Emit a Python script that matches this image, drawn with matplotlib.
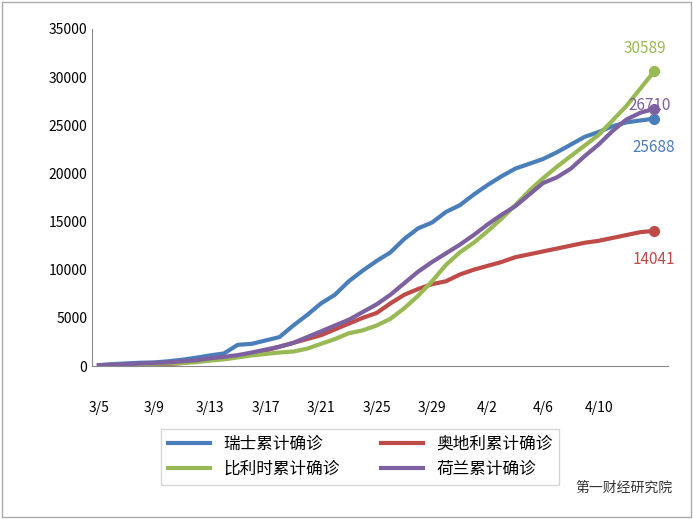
import matplotlib
matplotlib.use("Agg")
import matplotlib.pyplot as plt
import numpy as np
import datetime as dt

plt.rcParams['font.family'] = ['Noto Sans CJK SC', 'DejaVu Sans']

start = dt.date(2020, 3, 5)
dates = [start + dt.timedelta(days=i) for i in range(41)]
date_labels = [f"{d.month}/{d.day}" for d in dates]

swiss = [90,200,270,340,370,490,650,860,1100,1300,2200,2300,2650,3000,4200,5300,6500,7400,8800,9900,
         10900,11800,13200,14300,14900,16000,16700,17800,18800,19700,20500,21000,21500,22200,23000,23800,
         24300,24900,25300,25500,25688]
austria = [40,60,80,110,150,200,300,500,650,800,1000,1300,1600,2000,2400,2800,3200,3800,4400,5000,
           5500,6500,7400,8000,8500,8800,9500,10000,10400,10800,11300,11600,11900,12200,12500,12800,
           13000,13300,13600,13900,14041]
belgium = [50,110,170,200,240,270,320,400,560,690,890,1100,1250,1400,1500,1800,2300,2800,3400,3700,
           4200,4900,6000,7300,8800,10500,11800,12800,14000,15300,16700,18200,19500,20700,21800,22900,
           24000,25500,27000,28800,30589]
nether = [80,130,190,260,320,380,500,600,800,950,1130,1400,1700,2000,2400,3000,3600,4200,4800,5600,
          6400,7400,8600,9800,10800,11700,12600,13600,14700,15700,16600,17800,19000,19600,20500,21800,
          23000,24400,25600,26300,26710]

colors = {'swiss': '#4a7ebb', 'austria': '#be4b48', 'belgium': '#98b954', 'nether': '#7d60a0'}

fig = plt.figure(figsize=(6.93, 5.19), dpi=100)
ax = fig.add_axes([92/693, 1-366/519, (668-92)/693, (366-29)/519])
x = np.arange(len(dates))
h1, = ax.plot(x, swiss, color=colors['swiss'], lw=3, label='瑞士累计确诊')
h2, = ax.plot(x, austria, color=colors['austria'], lw=3, label='奥地利累计确诊')
h3, = ax.plot(x, belgium, color=colors['belgium'], lw=3, label='比利时累计确诊')
h4, = ax.plot(x, nether, color=colors['nether'], lw=3, label='荷兰累计确诊')
for s, c in [(swiss, 'swiss'), (austria, 'austria'), (belgium, 'belgium'), (nether, 'nether')]:
    ax.plot(x[-1], s[-1], 'o', color=colors[c], ms=7)
ax.text(x[-1] - 0.7, belgium[-1] + 1500, str(belgium[-1]), color=colors['belgium'], ha='center', va='bottom', fontsize=11)
ax.text(x[-1] - 0.3, nether[-1] + 300, str(nether[-1]), color=colors['nether'], ha='center', va='center', fontsize=11)
ax.text(x[-1], swiss[-1] - 3000, str(swiss[-1]), color=colors['swiss'], ha='center', va='center', fontsize=11)
ax.text(x[-1], austria[-1] - 3000, str(austria[-1]), color=colors['austria'], ha='center', va='center', fontsize=11)

ax.set_xlim(-0.5, 41)
ax.set_ylim(0, 35000)
ax.set_yticks(range(0, 35001, 5000))
ax.set_xticks(x[:40:4])
ax.set_xticklabels(date_labels[:40:4])
for s in ['top', 'right']:
    ax.spines[s].set_visible(False)
ax.tick_params(axis='x', length=0, pad=25, labelsize=10)
ax.tick_params(axis='y', length=0, labelsize=10)
ax.spines['left'].set_color('#888888')
ax.spines['bottom'].set_color('#888888')

fig.legend([h1, h3, h2, h4], [h.get_label() for h in [h1, h3, h2, h4]],
           loc='center', bbox_to_anchor=(0.52, 0.12), ncol=2, frameon=True, fontsize=12,
           handlelength=2.5, columnspacing=2.5, edgecolor='#cccccc', fancybox=False)
fig.text(0.97, 0.06, '第一财经研究院', ha='right', va='center', fontsize=10, color='#333333')
fig.patches.append(plt.Rectangle((0.003, 0.003), 0.994, 0.994, transform=fig.transFigure,
                                 fill=False, edgecolor='#aaaaaa', lw=1))
fig.savefig('out.png', dpi=100)
